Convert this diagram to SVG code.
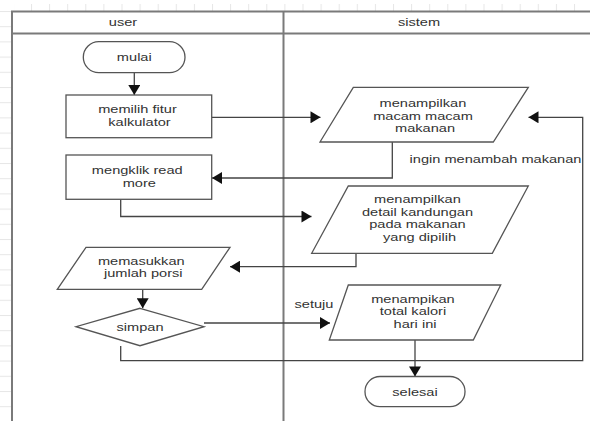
<svg xmlns="http://www.w3.org/2000/svg" width="590" height="421" viewBox="0 0 590 421">
  <style>
    .frame { fill: none; stroke: #7a7a7a; stroke-width: 2; }
    .node { fill: #ffffff; stroke: #555555; stroke-width: 1.3; }
    .edge { fill: none; stroke: #444444; stroke-width: 1.3; }
    .arrow { marker-end: url(#head); }
    text { font-family: "Liberation Sans", Arial, sans-serif; font-size: 11.5px; fill: #333333; text-anchor: middle; }
  </style>
  <defs>
    <marker id="head" markerUnits="userSpaceOnUse" markerWidth="12" markerHeight="12" viewBox="0 0 10 12" refX="10" refY="6" orient="auto">
      <path d="M0,0 L10,6 L0,12 Z" fill="#111111"/>
    </marker>
    <pattern id="tickX" patternUnits="userSpaceOnUse" x="31" y="0" width="18.1" height="12">
      <rect x="0" y="0" width="1" height="12" fill="#e6e6e6"/>
    </pattern>
    <pattern id="tickY" patternUnits="userSpaceOnUse" x="0" y="11" width="12" height="15.2">
      <rect x="0" y="0" width="12" height="1" fill="#e6e6e6"/>
    </pattern>
  </defs>

  <rect width="590" height="421" fill="#ffffff"/>

  <!-- ruler ticks of the canvas -->
  <rect x="14" y="4" width="576" height="7" fill="url(#tickX)"/>
  <rect x="0" y="11" width="11" height="410" fill="url(#tickY)"/>

  <!-- swimlane frame -->
  <g id="lanes">
    <path class="frame" d="M596,11.5 H12 V425"/>
    <path class="frame" d="M12,33.5 H596"/>
    <path class="frame" d="M283.5,11.5 V425"/>
    <text transform="translate(123,26) scale(1.27,1)" x="0" y="0">user</text>
    <text transform="translate(419,26) scale(1.27,1)" x="0" y="0">sistem</text>
  </g>

  <!-- connectors -->
  <g id="connectors">
    <path class="edge arrow" d="M134.3,72.7 V95"/>
    <path class="edge arrow" d="M211.7,117.3 H320.5"/>
    <path class="edge arrow" d="M392.3,142 V178 H212"/>
    <path class="edge arrow" d="M120.7,199.3 V216.5 H311.5"/>
    <path class="edge arrow" d="M356,253.3 V266.7 H230"/>
    <path class="edge arrow" d="M142.7,289.3 V308.3"/>
    <path class="edge arrow" d="M204,323 H330"/>
    <path class="edge arrow" d="M120.7,346 V360.7 H582.7 V117.3 H528.5"/>
    <path class="edge arrow" d="M415,340 V376.5"/>
    <text transform="translate(495.5,163.3) scale(1.27,1)" x="0" y="0">ingin menambah makanan</text>
    <text transform="translate(314,308.3) scale(1.27,1)" x="0" y="0">setuju</text>
  </g>

  <g id="mulai">
    <rect class="node" x="83.3" y="41.7" width="101.7" height="31" rx="15.5" ry="15.5"/>
    <text transform="translate(134.3,61.3) scale(1.27,1)" x="0" y="0">mulai</text>
  </g>

  <g id="memilih-fitur">
    <rect class="node" x="66" y="95" width="145.7" height="42.7"/>
    <text transform="translate(139.5,0) scale(1.27,1)" x="0" y="0">
      <tspan x="0" y="113.5">memilih fitur</tspan>
      <tspan x="0" y="126">kalkulator</tspan>
    </text>
  </g>

  <g id="tampil-makanan">
    <polygon class="node" points="353.3,87.3 528.3,87.3 493.3,142 320,142"/>
    <text transform="translate(425,0) scale(1.27,1)" x="0" y="0">
      <tspan x="0" y="107.3">menampilkan</tspan>
      <tspan x="0" y="119.8">macam macam</tspan>
      <tspan x="0" y="132.3">makanan</tspan>
    </text>
  </g>

  <g id="read-more">
    <rect class="node" x="66" y="155" width="145.7" height="44.3"/>
    <text transform="translate(139.3,0) scale(1.27,1)" x="0" y="0">
      <tspan x="0" y="174.3">mengklik read</tspan>
      <tspan x="0" y="186.8">more</tspan>
    </text>
  </g>

  <g id="tampil-detail">
    <polygon class="node" points="348.3,186 528.3,186 492.3,253.3 311.7,253.3"/>
    <text transform="translate(419.5,0) scale(1.27,1)" x="0" y="0">
      <tspan x="0" y="203.5">menampilkan</tspan>
      <tspan x="0" y="216">detail kandungan</tspan>
      <tspan x="0" y="228.5">pada makanan</tspan>
      <tspan x="0" y="241">yang dipilih</tspan>
    </text>
  </g>

  <g id="jumlah-porsi">
    <polygon class="node" points="86,247.3 230,247.3 201.7,289.3 57.3,289.3"/>
    <text transform="translate(143.3,0) scale(1.27,1)" x="0" y="0">
      <tspan x="0" y="265">memasukkan</tspan>
      <tspan x="0" y="277.5">jumlah porsi</tspan>
    </text>
  </g>

  <g id="simpan">
    <polygon class="node" points="140,308.3 204,326.7 140,345.7 76,326.7"/>
    <text transform="translate(140,330.8) scale(1.27,1)" x="0" y="0">simpan</text>
  </g>

  <g id="total-kalori">
    <polygon class="node" points="348.3,285 500.7,285 473.3,340 329.3,340"/>
    <text transform="translate(415,0) scale(1.27,1)" x="0" y="0">
      <tspan x="0" y="303">menampikan</tspan>
      <tspan x="0" y="315.5">total kalori</tspan>
      <tspan x="0" y="328">hari ini</tspan>
    </text>
  </g>

  <g id="selesai">
    <rect class="node" x="365" y="376.5" width="100" height="30.2" rx="15" ry="15"/>
    <text transform="translate(415,395.5) scale(1.27,1)" x="0" y="0">selesai</text>
  </g>
</svg>
